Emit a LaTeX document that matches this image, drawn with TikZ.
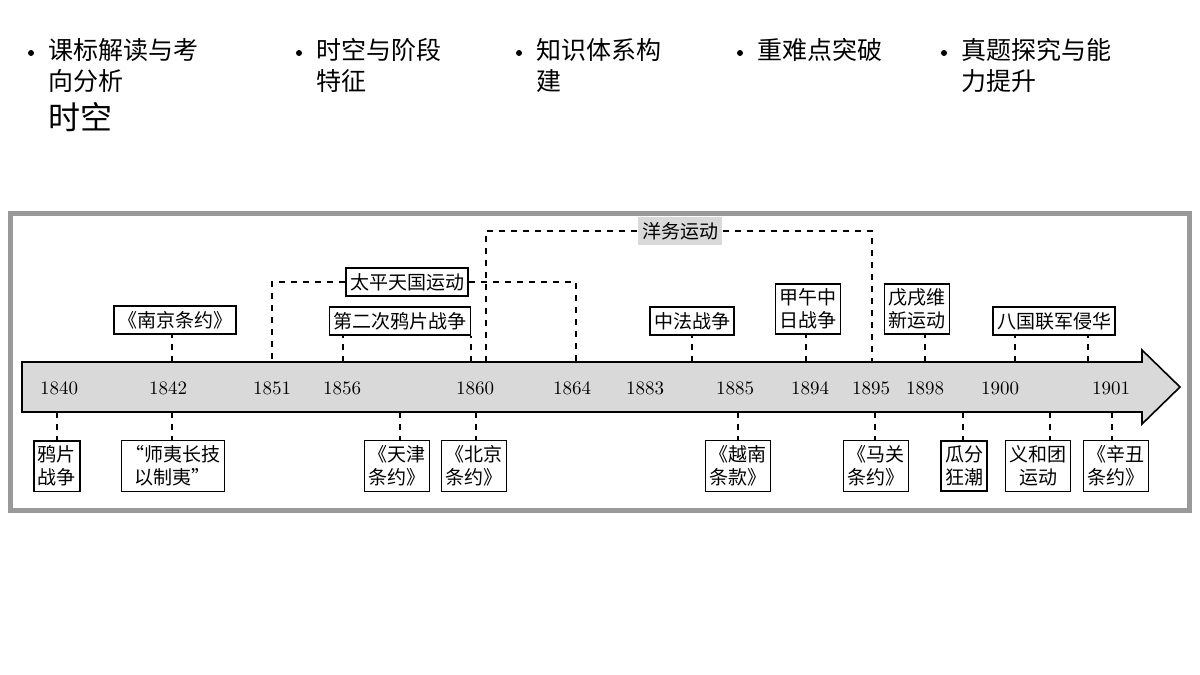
\documentclass[tikz,border=0pt]{standalone}
\usepackage{fontspec}
\newfontfamily\cjk{Noto Sans CJK SC}
\usetikzlibrary{calc}
\tikzset{evt/.style={draw, thick, fill=white, font=\cjk\fontsize{9.5}{11.5}\selectfont, align=center, inner xsep=2pt, inner ysep=2.5pt}}
\tikzset{yr/.style={font=\fontsize{9.5}{10}\selectfont}}
\tikzset{tick/.style={dashed, semithick}}
\tikzset{bul/.style={anchor=north west, font=\cjk\fontsize{12.5}{15.5}\selectfont, align=left, inner sep=0pt}}
\tikzset{dot/.style={circle, fill=black, inner sep=0pt, minimum size=3pt}}
\definecolor{axisgray}{gray}{0.85}
\definecolor{framegray}{gray}{0.6}
\begin{document}
\begin{tikzpicture}[x=0.5pt,y=-0.5pt]
\useasboundingbox (0,0) rectangle (1200,675);
%bullets
\foreach \n/\x in {d1/31,d2/299,d3/519,d4/740,d5/944}
  \node (\n) at (\x,53)[dot]{};
\node (b1) at (48,38)[bul]{课标解读与考\\向分析};
\node (b1s) at (48,102)[bul, font=\cjk\fontsize{16}{18}\selectfont]{时空};
\node (b2) at (316,38)[bul]{时空与阶段\\特征};
\node (b3) at (536,38)[bul]{知识体系构\\建};
\node (b4) at (757,38)[bul]{重难点突破};
\node (b5) at (961,38)[bul]{真题探究与能\\力提升};
%frame
\draw[framegray, line width=2.5pt, fill=white] (10,213) rectangle (1189,510);
%axis
\draw[thick, fill=axisgray] (22,362)--(1142,362)--(1142,350)--(1180,387)--(1142,424)--(1142,412)--(22,412)--cycle;
\foreach \y/\x in {1840/59,1842/168,1851/272,1856/342,1860/475,1864/572,1883/645,1885/735,1894/810,1895/871,1898/925,1900/1000,1901/1111}
  \node (y\y) at (\x,388)[yr]{\y};
%top events
\node (nanjing) at (175,320)[evt]{《南京条约》};
\node (taiping) at (407,282)[evt]{太平天国运动};
\node (erci) at (400,321)[evt]{第二次鸦片战争};
\node (yangwu) at (680,231)[evt, draw=none, fill=axisgray]{洋务运动};
\node (zhongfa) at (692,321)[evt]{中法战争};
\node (jiawu) at (808,309)[evt]{甲午中\\日战争};
\node (wuxu) at (917,309)[evt]{戊戌维\\新运动};
\node (baguo) at (1054,321)[evt]{八国联军侵华};
%bottom events
\node (yapian) at (57,466)[evt]{鸦片\\战争};
\node (shiyi) at (173,466)[evt]{“师夷长技\\以制夷”};
\node (tianjin) at (397,466)[evt]{《天津\\条约》};
\node (beijing) at (474,466)[evt]{《北京\\条约》};
\node (yuenan) at (738,466)[evt]{《越南\\条款》};
\node (maguan) at (876,466)[evt]{《马关\\条约》};
\node (guafen) at (964,466)[evt]{瓜分\\狂潮};
\node (yihe) at (1038,466)[evt]{义和团\\运动};
\node (xinchou) at (1116,466)[evt]{《辛丑\\条约》};
%brackets
\draw[tick] (taiping.west)-|(272,362);
\draw[tick] (taiping.east)-|(576,362);
\draw[tick] (yangwu.west)-|(486,362);
\draw[tick] (yangwu.east)-|(872,362);
%connectors up
\foreach \n/\x in {nanjing/172,erci/343,erci/471,zhongfa/692,jiawu/806,wuxu/925,baguo/1015,baguo/1088}
  \draw[tick] (\x,362)--(\x,0 |- \n.south);
%connectors down
\foreach \n/\x in {yapian/57,shiyi/172,tianjin/400,beijing/476,yuenan/738,maguan/875,guafen/963,yihe/1050,xinchou/1112}
  \draw[tick] (\x,412)--(\x,0 |- \n.north);
\end{tikzpicture}
\end{document}
